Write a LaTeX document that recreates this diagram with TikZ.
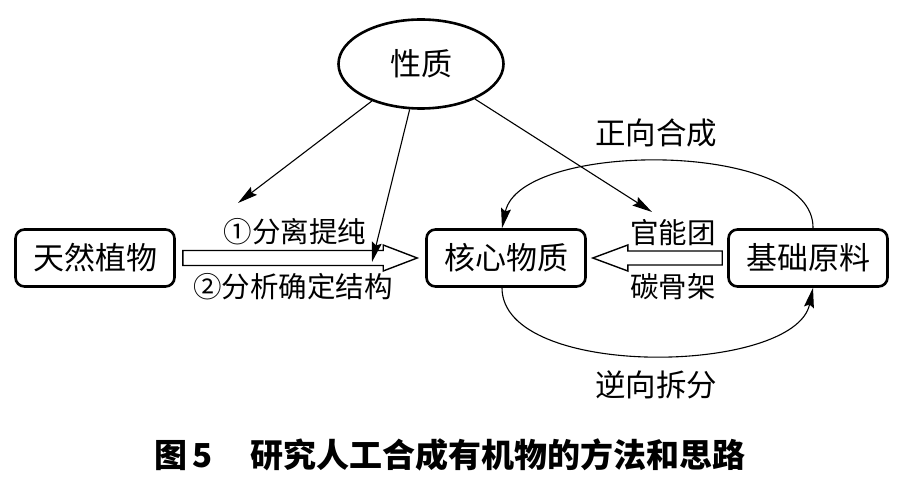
\documentclass[tikz,border=0pt]{standalone}
\usepackage{fontspec}
\setmainfont{Noto Sans CJK SC}
\usetikzlibrary{shapes.geometric,arrows.meta,calc}
\begin{document}
\begin{tikzpicture}[x=1pt,y=-1pt,
  box/.style={draw,line width=2.6pt,rounded corners=9pt,minimum width=159pt,minimum height=57pt,inner sep=0pt,font=\fontsize{31}{31}\selectfont},
  lab/.style={inner sep=0pt,font=\fontsize{28.5}{28.5}\selectfont},
  biglab/.style={inner sep=0pt,font=\fontsize{30.5}{30.5}\selectfont},
  arr/.style={line width=1.1pt,-{Stealth[length=20pt,width=10pt,inset=3pt]}},
  hollow/.style={line width=1.4pt,fill=white,line join=miter}]
\useasboundingbox (0,0) rectangle (924,492);
\node[box] (tr) at (95,258) {天然植物};
\node[box] (hx) at (506,258) {核心物质};
\node[box] (jc) at (808,258) {基础原料};
\node[ellipse,draw,line width=2.6pt,minimum width=165pt,minimum height=89pt,inner sep=0pt,font=\fontsize{31}{31}\selectfont] (xz) at (421,64) {性质};
% hollow arrows
\coordinate (la) at ([xshift=7pt]tr.east);
\coordinate (lb) at ([xshift=-8pt]hx.west);
\draw[hollow] ($(la)+(0,-7.5)$) -- ($(lb)+(-34,-7.5)$) -- ($(lb)+(-34,-13)$) -- (lb) -- ($(lb)+(-34,13)$) -- ($(lb)+(-34,7.5)$) -- ($(la)+(0,7.5)$) -- cycle;
\coordinate (ra) at ([xshift=-5pt]jc.west);
\coordinate (rb) at ([xshift=6pt]hx.east);
\draw[hollow] ($(ra)+(0,-7)$) -- ($(rb)+(35,-7)$) -- ($(rb)+(35,-13)$) -- (rb) -- ($(rb)+(35,13)$) -- ($(rb)+(35,7)$) -- ($(ra)+(0,7)$) -- cycle;
% arrows from ellipse
\coordinate (t1) at (238,203);
\coordinate (t2) at (372,262);
\coordinate (t3) at (652,212);
\draw[arr] (xz.217) -- (t1);
\draw[arr] (xz.256) -- (t2);
\draw[arr] (xz.-33) -- (t3);
% curves
\draw[arr] ([xshift=5pt]jc.north) .. controls (815,140) and (520,140) .. ([xshift=-4pt]hx.north);
\draw[arr] ([xshift=-4pt]hx.south) .. controls (502,380) and (795,375) .. ([xshift=5pt]jc.south);
% labels
\node[lab] (l1) at (295,232) {①分离提纯};
\node[lab] (l2) at (293,287) {②分析确定结构};
\node[lab] (l3) at (673,233) {官能团};
\node[lab] (l4) at (673,287) {碳骨架};
\node[biglab] (l5) at (656,133) {正向合成};
\node[biglab] (l6) at (656,385) {逆向拆分};
\node[inner sep=0pt,anchor=west,font=\fontsize{33}{33}\selectfont\bfseries] (cap) at (154,455) {图\hspace{0.15em}5\hspace{1.15em}研究人工合成有机物的方法和思路};
\end{tikzpicture}
\end{document}
